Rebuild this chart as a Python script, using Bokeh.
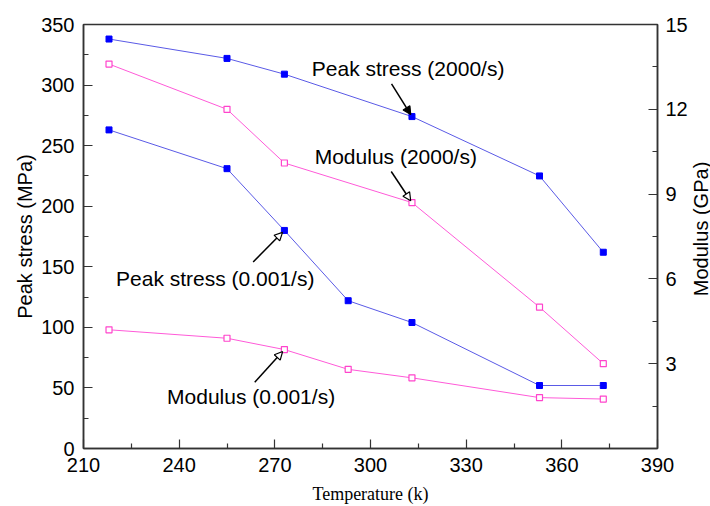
import math

from bokeh.plotting import figure
from bokeh.layouts import row
from bokeh.models import Range1d, LinearAxis, FixedTicker, Label, Arrow, NormalHead
from bokeh.core.properties import value
from bokeh.embed import file_html
from bokeh.resources import INLINE

# Temperatures (K) and measured values
temp_2000 = [218, 255, 273, 313, 353, 373]
peak_2000 = [338, 322, 309, 274, 225, 162]          # MPa
mod_2000 = [13.6, 12.0, 10.1, 8.7, 5.0, 3.0]        # GPa

temp_0001 = [218, 255, 273, 293, 313, 353, 373]
peak_0001 = [263, 231, 180, 122, 104, 52, 52]       # MPa
mod_0001 = [4.2, 3.9, 3.5, 2.8, 2.5, 1.8, 1.75]     # GPa

x_ticks = [210, 240, 270, 300, 330, 360, 390]
stress_ticks = [0, 50, 100, 150, 200, 250, 300, 350]
mod_ticks = [3, 6, 9, 12, 15]

SANS = "Liberation Sans"
SERIF = "Liberation Serif"
AXIS_COLOR = "#333333"
BLUE_LINE = "#5a5ae6"
BLUE_MARK = "#0000ff"
PINK_LINE = "#ff5ad8"
PINK_MARK = "#ff44cc"

p = figure(width=690, height=506, output_backend="svg", toolbar_location=None,
           x_range=Range1d(210, 390), y_range=Range1d(0, 350),
           min_border_left=83, min_border_right=31, min_border_top=24,
           min_border_bottom=57)
p.extra_y_ranges = {"mod": Range1d(0, 15)}

p.xgrid.visible = False
p.ygrid.visible = False
p.outline_line_color = AXIS_COLOR
p.outline_line_width = 1.5
p.outline_line_alpha = 1.0


def style_axis(ax, ticks, minor):
    ax.ticker = FixedTicker(ticks=ticks, minor_ticks=minor)
    ax.axis_line_color = AXIS_COLOR
    ax.axis_line_width = 1.5
    ax.major_tick_line_color = AXIS_COLOR
    ax.minor_tick_line_color = AXIS_COLOR
    ax.major_tick_line_width = 1.2
    ax.minor_tick_line_width = 1.2
    ax.major_tick_in = 9
    ax.major_tick_out = 0
    ax.minor_tick_in = 5
    ax.minor_tick_out = 0
    ax.major_label_text_font = SANS
    ax.major_label_text_font_size = "20px"
    ax.major_label_text_color = "black"
    ax.axis_label_text_font_style = "normal"
    ax.axis_label_text_color = "black"


xa = p.xaxis[0]
style_axis(xa, x_ticks, [225, 255, 285, 315, 345, 375])
xa.axis_label = "Temperature (k)"
xa.axis_label_text_font = SERIF
xa.axis_label_text_font_size = "18px"
xa.major_label_standoff = 9
xa.axis_label_standoff = 9

ya = p.yaxis[0]
style_axis(ya, stress_ticks, [25, 75, 125, 175, 225, 275, 325])
ya.axis_label = "Peak stress (MPa)"
ya.axis_label_text_font = SANS
ya.axis_label_text_font_size = "20px"
ya.major_label_standoff = 9
ya.axis_label_standoff = 2

ra = LinearAxis(y_range_name="mod")
style_axis(ra, mod_ticks, [1.5, 4.5, 7.5, 10.5, 13.5])
ra.major_label_standoff = 8
p.add_layout(ra, "right")

# Series lines and markers
p.line(temp_2000, peak_2000, line_color=BLUE_LINE, line_width=1)
p.scatter(temp_2000, peak_2000, marker="square", size=6,
          fill_color=BLUE_MARK, line_color=BLUE_MARK)

p.line(temp_0001, peak_0001, line_color=BLUE_LINE, line_width=1)
p.scatter(temp_0001, peak_0001, marker="square", size=6,
          fill_color=BLUE_MARK, line_color=BLUE_MARK)

p.line(temp_2000, mod_2000, line_color=PINK_LINE, line_width=1, y_range_name="mod")
p.scatter(temp_2000, mod_2000, marker="square", size=6, fill_color="white",
          line_color=PINK_MARK, line_width=1.2, y_range_name="mod")

p.line(temp_0001, mod_0001, line_color=PINK_LINE, line_width=1, y_range_name="mod")
p.scatter(temp_0001, mod_0001, marker="square", size=6, fill_color="white",
          line_color=PINK_MARK, line_width=1.2, y_range_name="mod")


def annotate(text, tx, ty, px, py, dx, dy, range_name="default", filled=True):
    """Label at (tx, ty) with an arrow from (px+dx, py+dy) to the point (px, py)."""
    p.add_layout(Label(x=tx, y=ty, text=text, text_font=SANS,
                       text_font_size="21px", text_baseline="middle",
                       text_align="left", text_color="black",
                       y_range_name=range_name))
    head = NormalHead(size=8, line_color="black", line_width=1.2,
                      fill_color="black" if filled else "white")
    p.add_layout(Arrow(end=head, x_start=px + dx, y_start=py + dy,
                       x_end=px + 0.06 * dx, y_end=py + 0.06 * dy,
                       line_color="black", line_width=1.5,
                       y_range_name=range_name))


annotate("Peak stress (2000/s)", 281.6, 313.8,
         temp_2000[3], peak_2000[3], -6.4, 27.0)
annotate("Modulus (2000/s)", 282.5, 10.34,
         temp_2000[3], mod_2000[3], -6.5, 1.1, "mod", filled=False)
annotate("Peak stress (0.001/s)", 220.2, 140.6,
         temp_0001[2], peak_0001[2], -9.8, -26.0, filled=False)
annotate("Modulus (0.001/s)", 236.2, 1.85,
         temp_0001[2], mod_0001[2], -9.3, -1.16, "mod", filled=False)

# Narrow strip to the right carrying the modulus axis title, reading upward
t = figure(width=20, height=506, output_backend="svg", toolbar_location=None,
           x_range=Range1d(0, 1), y_range=Range1d(0, 506),
           x_axis_type=None, y_axis_type=None,
           min_border_left=0, min_border_right=0, min_border_top=0,
           min_border_bottom=0)
t.xgrid.visible = False
t.ygrid.visible = False
t.outline_line_color = None
t.text(x=[0.5], y=[262], text=["Modulus (GPa)"], angle=math.pi / 2,
       text_font=value(SANS), text_font_size="20px", text_color="black",
       text_align="center", text_baseline="middle")

layout = row(p, t, spacing=0)

open("out.html", "w").write(file_html(layout, INLINE))
